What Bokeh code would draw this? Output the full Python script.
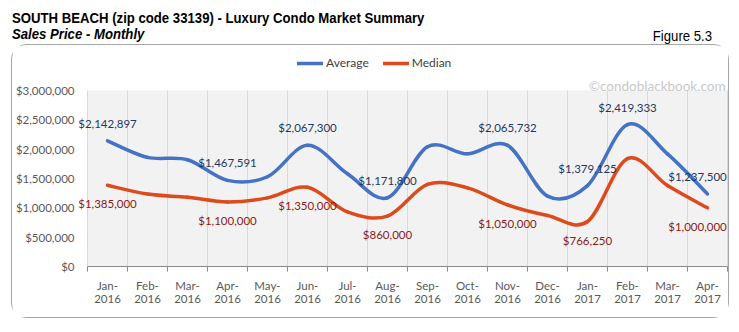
from bokeh.plotting import figure
from bokeh.layouts import column
from bokeh.models import (ColumnDataSource, FixedTicker, NumeralTickFormatter, Label,
                          Legend, LegendItem, Range1d, Div)
from bokeh.embed import file_html
from bokeh.resources import INLINE
from bokeh.core.properties import value

months = ["Jan-2016", "Feb-2016", "Mar-2016", "Apr-2016", "May-2016", "Jun-2016",
          "Jul-2016", "Aug-2016", "Sep-2016", "Oct-2016", "Nov-2016", "Dec-2016",
          "Jan-2017", "Feb-2017", "Mar-2017", "Apr-2017"]
average = [2142897, 1860000, 1820000, 1467591, 1530000, 2067300, 1580000, 1171800,
           2040000, 1920000, 2065732, 1200000, 1379125, 2419333, 1920000, 1237500]
median = [1385000, 1235000, 1180000, 1100000, 1170000, 1350000, 930000, 860000,
          1400000, 1340000, 1050000, 870000, 766250, 1840000, 1380000, 1000000]
avg_labeled = ["Jan-2016", "Apr-2016", "Jun-2016", "Aug-2016", "Nov-2016",
               "Jan-2017", "Feb-2017", "Apr-2017"]
med_labeled = ["Jan-2016", "Apr-2016", "Jun-2016", "Aug-2016", "Nov-2016",
               "Jan-2017", "Apr-2017"]
y_ticks = [0, 500000, 1000000, 1500000, 2000000, 2500000, 3000000]

TITLE = "SOUTH BEACH (zip code 33139) - Luxury Condo Market Summary"
SUBTITLE = "Sales Price - Monthly"
FIGNUM = "Figure 5.3"
WATERMARK = "\u00a9condoblackbook.com"

BLUE = "#4472C4"
RED = "#DD4A1B"
FONT = "Lato"
FS = "11.5px"
LABEL_SHIFT = {"Apr-2017": -10}  # keep edge labels inside the plot area, as Excel does

n = len(months)
centers = [i + 0.5 for i in range(n)]
bounds = list(range(n + 1))


def smooth_segments(xs, ys):
    d = dict(x0=[], y0=[], x1=[], y1=[], cx0=[], cy0=[], cx1=[], cy1=[])
    m = len(xs)
    for i in range(m - 1):
        a, b = max(i - 1, 0), min(i + 2, m - 1)
        d["x0"].append(xs[i]); d["y0"].append(ys[i])
        d["x1"].append(xs[i + 1]); d["y1"].append(ys[i + 1])
        d["cx0"].append(xs[i] + (xs[i + 1] - xs[a]) / 6)
        d["cy0"].append(ys[i] + (ys[i + 1] - ys[a]) / 6)
        d["cx1"].append(xs[i + 1] - (xs[b] - xs[i]) / 6)
        d["cy1"].append(ys[i + 1] - (ys[b] - ys[i]) / 6)
    return ColumnDataSource(d)


def label_source(values, labeled):
    idx = [months.index(m) for m in labeled]
    return ColumnDataSource(dict(
        x=[centers[i] for i in idx], y=[values[i] for i in idx],
        t=["${:,}".format(values[i]) for i in idx],
        dx=[LABEL_SHIFT.get(months[i], 0) for i in idx]))


hdr_font = "font-family:'Liberation Sans',Arial,sans-serif;transform:scaleX(0.94);transform-origin:{} center;white-space:nowrap;line-height:18px;font-size:14px;position:absolute;"
header = Div(width=739, height=44, margin=0, text=f"""
<div style="position:relative;width:739px;height:44px;color:#000;">
 <div style="{hdr_font.format('left')}left:12px;top:9px;font-weight:bold;">{TITLE}</div>
 <div style="{hdr_font.format('left')}left:12px;top:25px;font-weight:bold;font-style:italic;">{SUBTITLE}</div>
 <div style="{hdr_font.format('right')}right:27px;top:27px;">{FIGNUM}</div>
</div>""")

p = figure(width=718, height=274, output_backend="svg", toolbar_location=None, title=None,
           x_range=Range1d(-0.25, n + 0.025), y_range=Range1d(0, 3750000),
           min_border_left=64, min_border_right=2, min_border_top=1,
           min_border_bottom=53, margin=(0, 0, 0, 11),
           styles={"border": "1px solid #A6A6A6", "border-radius": "15px"})
p.background_fill_color = "white"
p.border_fill_color = "white"
p.outline_line_color = None

# gray plot area
p.quad(left=bounds[0], right=bounds[-1], bottom=y_ticks[0], top=y_ticks[-1],
       fill_color="#F2F2F2", line_color=None, level="image")

r_avg = p.bezier(source=smooth_segments(centers, average), x0="x0", y0="y0", x1="x1", y1="y1",
                 cx0="cx0", cy0="cy0", cx1="cx1", cy1="cy1",
                 line_color=BLUE, line_width=3.5, line_cap="round")
r_med = p.bezier(source=smooth_segments(centers, median), x0="x0", y0="y0", x1="x1", y1="y1",
                 cx0="cx0", cy0="cy0", cx1="cx1", cy1="cy1",
                 line_color=RED, line_width=3.5, line_cap="round")

p.text(x="x", y="y", text="t", source=label_source(average, avg_labeled),
       text_align="center", text_baseline="bottom", x_offset="dx",
       y_offset=-11, text_color="#1F3864", text_font=value(FONT), text_font_size=FS)
p.text(x="x", y="y", text="t", source=label_source(median, med_labeled),
       text_align="center", text_baseline="top", x_offset="dx",
       y_offset=12, text_color="#8B1A1A", text_font=value(FONT), text_font_size=FS)

# axes
xa = p.xaxis[0]
xa.ticker = FixedTicker(ticks=centers, minor_ticks=bounds)
xa.bounds = (bounds[0], bounds[-1])
xa.major_label_overrides = {c: m.replace("-", "-\n") for c, m in zip(centers, months)}
xa.major_tick_out = 0
xa.major_tick_in = 0
xa.minor_tick_out = 5
xa.minor_tick_in = 0
xa.minor_tick_line_color = "#898989"
xa.axis_line_color = "#898989"
xa.major_label_standoff = 7
xa.major_label_text_font = FONT
xa.major_label_text_font_size = FS
xa.major_label_text_color = "#595959"
xa.major_label_text_line_height = 1.0

ya = p.yaxis[0]
ya.ticker = FixedTicker(ticks=y_ticks)
ya.formatter = NumeralTickFormatter(format="$0,0")
ya.axis_line_color = None
ya.major_tick_line_color = None
ya.minor_tick_line_color = None
ya.major_tick_out = 0
ya.major_tick_in = 0
ya.minor_tick_out = 0
ya.minor_tick_in = 0
ya.major_label_standoff = 3
ya.major_label_text_font = FONT
ya.major_label_text_font_size = FS
ya.major_label_text_color = "#595959"

p.xgrid.ticker = FixedTicker(ticks=bounds)
p.xgrid.grid_line_color = "#D9D9D9"
p.xgrid.cross_bounds = (y_ticks[0], y_ticks[-1])
p.ygrid.grid_line_color = None

legend = Legend(items=[LegendItem(label="Average", renderers=[r_avg]),
                       LegendItem(label="Median", renderers=[r_med])],
                orientation="horizontal", location=(220, 196), padding=0, margin=0,
                glyph_width=26, glyph_height=14, label_height=14, label_standoff=3,
                spacing=14, background_fill_alpha=0, border_line_color=None,
                label_text_font=FONT, label_text_font_size="12px",
                label_text_color="#404040")
p.add_layout(legend)

p.add_layout(Label(x=648, y=181, x_units="screen", y_units="screen",
                   text=WATERMARK, text_align="right",
                   text_font=FONT, text_font_size="13.5px",
                   text_baseline="middle", text_color="#C8C8C8"))

layout = column(header, p, spacing=0, margin=0)
open("out.html", "w").write(file_html(layout, INLINE))
